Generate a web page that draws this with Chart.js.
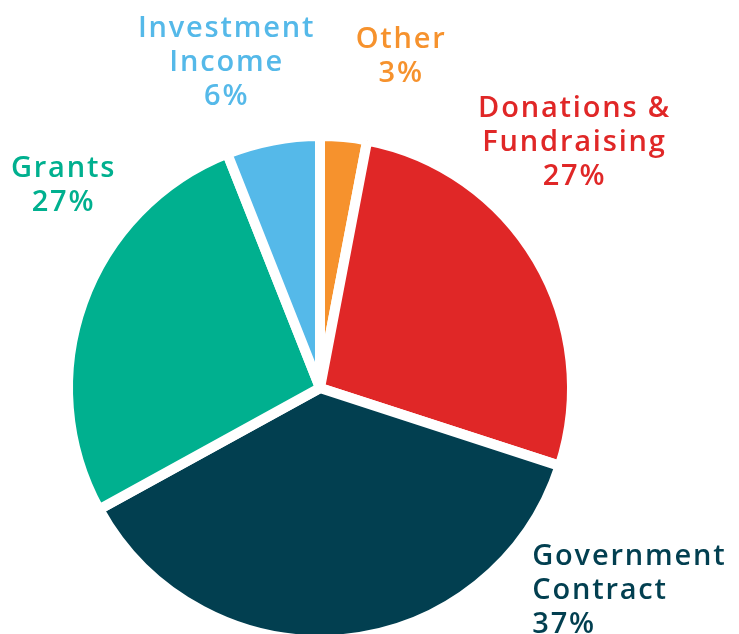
<!DOCTYPE html>
<html>
<head>
<meta charset="utf-8">
<script src="https://cdn.jsdelivr.net/npm/chart.js@4/dist/chart.umd.min.js"></script>
<style>
  html, body { margin: 0; padding: 0; background: #fff; overflow: hidden; }
</style>
</head>
<body>
<canvas id="revenue" width="739" height="634"></canvas>
<script>
// revenue sources, clockwise from 12 o'clock
const categories = ['Other', 'Donations & Fundraising', 'Government Contract', 'Grants', 'Investment Income'];
const shares = [3, 27, 37, 27, 6];
const nameLines = [['Other'], ['Donations &', 'Fundraising'], ['Government', 'Contract'], ['Grants'], ['Investment', 'Income']];
const colors = ['#f6922d', '#e02727', '#023f50', '#00b08f', '#55b9e9'];

// where each label sits, relative to the outer edge of its slice
const labelPlacement = [
  { dx: 57, dy: -94, align: 'center' },
  { dx: 41, dy: -145, align: 'center' },
  { dx: 189, dy: -69, align: 'left' },
  { dx: -25, dy: -127, align: 'center' },
  { dx: -48, dy: -108, align: 'center' }
];

const sliceLabels = {
  id: 'sliceLabels',
  afterDatasetsDraw(chart) {
    const ctx = chart.ctx;
    const meta = chart.getDatasetMeta(0);
    const bw = chart.data.datasets[0].borderWidth;
    ctx.save();
    ctx.font = '600 29px "Open Sans"';
    ctx.textBaseline = 'alphabetic';
    const spacing = 1.8;
    if ('letterSpacing' in ctx) ctx.letterSpacing = spacing + 'px';
    meta.data.forEach((arc, i) => {
      const { x, y, startAngle, endAngle, outerRadius } = arc.getProps(['x', 'y', 'startAngle', 'endAngle', 'outerRadius'], true);
      const mid = (startAngle + endAngle) / 2;
      const r = outerRadius - bw / 2;
      const p = labelPlacement[i];
      const lx = x + Math.cos(mid) * r + p.dx + (p.align === 'center' ? spacing / 2 : 0);
      const ly = y + Math.sin(mid) * r + p.dy;
      const lines = nameLines[i].concat([shares[i] + '%']);
      ctx.fillStyle = colors[i];
      ctx.textAlign = p.align;
      lines.forEach((t, j) => ctx.fillText(t, lx, ly + j * 34));
    });
    ctx.restore();
  }
};

new Chart(
  document.getElementById('revenue'),
  {
    type: 'pie',
    data: {
      labels: categories,
      datasets: [
        {
          data: shares,
          backgroundColor: colors,
          borderColor: '#ffffff',
          borderWidth: 10,
          hoverOffset: 0
        }
      ]
    },
    options: {
      responsive: false,
      animation: false,
      radius: 252,
      layout: { padding: { top: 142, bottom: 0, left: 0, right: 99 } },
      plugins: {
        legend: { display: false },
        tooltip: { enabled: false }
      }
    },
    plugins: [sliceLabels]
  }
);
</script>
</body>
</html>
